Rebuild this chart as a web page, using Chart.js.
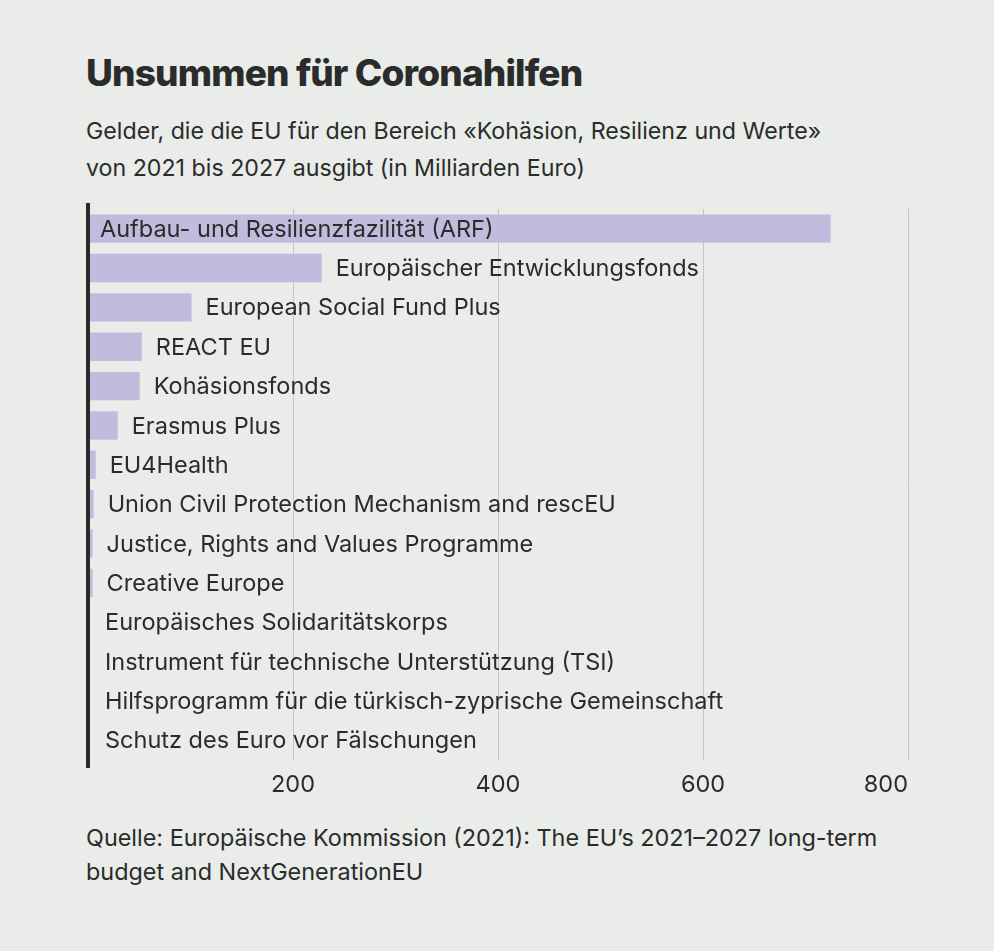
<!DOCTYPE html>
<html lang="de">
<head>
<meta charset="utf-8">
<title>Unsummen für Coronahilfen</title>
<script src="https://cdn.jsdelivr.net/npm/chart.js@4/dist/chart.umd.min.js"></script>
<style>
  html, body { margin: 0; padding: 0; }
  body {
    width: 994px;
    height: 951px;
    background: #e9ece9;
    color: #2b2b2b;
    font-family: Inter, "Noto Sans", sans-serif;
    position: relative;
    overflow: hidden;
  }
  h1 {
    position: absolute;
    left: 86px;
    top: 54px;
    margin: 0;
    font-size: 37px;
    line-height: 37px;
    font-weight: 800;
    letter-spacing: -0.85px;
  }
  .sub {
    position: absolute;
    left: 86px;
    top: 113px;
    margin: 0;
    font-size: 23.2px;
    line-height: 37px;
  }
  .src {
    position: absolute;
    left: 86px;
    top: 821px;
    margin: 0;
    font-size: 23.4px;
    line-height: 34px;
  }
  .chart-box {
    position: absolute;
    left: 0;
    top: 195px;
    width: 994px;
    height: 615px;
  }
</style>
</head>
<body>
<h1>Unsummen für Coronahilfen</h1>
<p class="sub">Gelder, die die EU für den Bereich «Kohäsion, Resilienz und Werte»<br>von 2021 bis 2027 ausgibt (in Milliarden Euro)</p>
<div class="chart-box"><canvas id="budgetChart"></canvas></div>
<p class="src">Quelle: Europäische Kommission (2021): The EU’s 2021–2027 long-term<br>budget and NextGenerationEU</p>

<script>
const programmes = [
    'Aufbau- und Resilienzfazilität (ARF)',
    'Europäischer Entwicklungsfonds',
    'European Social Fund Plus',
    'REACT EU',
    'Kohäsionsfonds',
    'Erasmus Plus',
    'EU4Health',
    'Union Civil Protection Mechanism and rescEU',
    'Justice, Rights and Values Programme',
    'Creative Europe',
    'Europäisches Solidaritätskorps',
    'Instrument für technische Unterstützung (TSI)',
    'Hilfsprogramm für die türkisch-zyprische Gemeinschaft',
    'Schutz des Euro vor Fälschungen',
];

const billions = [724.5, 228, 101, 52.5, 50.5, 29, 7.5, 5.5, 4.5, 4.5, 1.5, 1.2, 0.5, 0.1];

const xTicks = [200, 400, 600, 800];

const ink = '#2b2b2b';
const labelFont = '23.5px Inter, "Noto Sans", sans-serif';

// labels next to (or inside) the bars, plus the dark baseline on top
const barLabels = {
    id: 'barLabels',
    afterDatasetsDraw(chart) {
        const { ctx, chartArea } = chart;
        const meta = chart.getDatasetMeta(0);

        ctx.save();
        ctx.font = labelFont;
        ctx.fillStyle = ink;
        ctx.textBaseline = 'middle';
        ctx.textAlign = 'left';

        meta.data.forEach((bar, i) => {
            const inside = billions[i] > 300;
            const x = inside ? chartArea.left + 12 : Math.max(bar.x, chartArea.left + 3) + 14;
            ctx.fillText(programmes[i], x, bar.y + 1);
        });

        ctx.strokeStyle = ink;
        ctx.lineWidth = 4;
        ctx.beginPath();
        ctx.moveTo(chartArea.left, chartArea.top - 6);
        ctx.lineTo(chartArea.left, chartArea.bottom + 8);
        ctx.stroke();
        ctx.restore();
    },
};

function initBudgetChart() {
    const canvas = document.getElementById('budgetChart');

    new Chart(canvas, {
        type: 'bar',
        data: {
            labels: programmes,
            datasets: [{
                data: billions,
                backgroundColor: '#c1bbdd',
                borderWidth: 0,
                categoryPercentage: 0.72,
                barPercentage: 1,
            }],
        },
        options: {
            indexAxis: 'y',
            responsive: true,
            maintainAspectRatio: false,
            animation: false,
            layout: {
                padding: { top: 14, right: 86, bottom: 0, left: 0 },
            },
            plugins: {
                legend: { display: false },
                tooltip: { enabled: false },
            },
            scales: {
                x: {
                    min: 0,
                    max: 800,
                    afterFit(scale) { scale.height = 50; },
                    afterBuildTicks(scale) {
                        scale.ticks = [0, ...xTicks].map(v => ({ value: v }));
                    },
                    border: { display: false },
                    grid: {
                        color: ctx => (ctx.tick && ctx.tick.value === 0 ? 'rgba(0,0,0,0)' : '#c4c7c4'),
                        lineWidth: 1,
                        drawTicks: false,
                    },
                    ticks: {
                        padding: 11,
                        align: 'inner',
                        color: ink,
                        font: { family: 'Inter, "Noto Sans", sans-serif', size: 23.5 },
                        callback: v => (v === 0 ? '' : v),
                    },
                },
                y: {
                    afterFit(scale) { scale.width = 88; },
                    border: { display: false },
                    grid: { display: false },
                    ticks: { display: false },
                },
            },
        },
        plugins: [barLabels],
    });
}

if (document.readyState === 'loading') {
    document.addEventListener('DOMContentLoaded', initBudgetChart);
} else {
    initBudgetChart();
}
</script>
</body>
</html>
